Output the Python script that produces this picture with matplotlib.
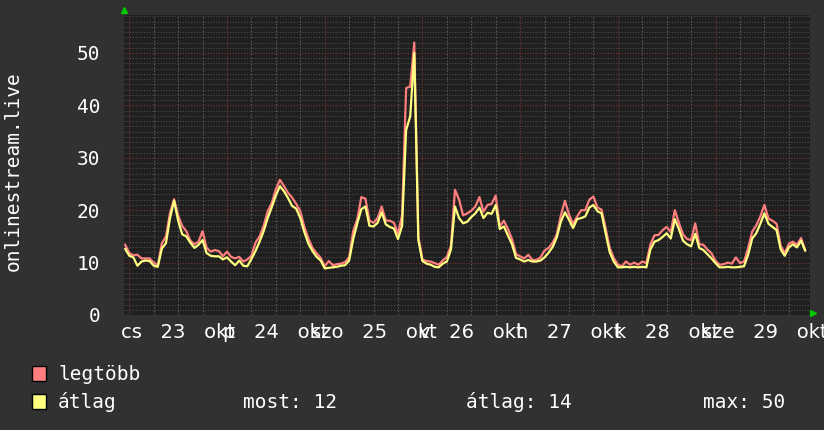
import numpy as np
import matplotlib.pyplot as plt
from matplotlib.ticker import MultipleLocator
from matplotlib.patches import Rectangle
from matplotlib.transforms import offset_copy, blended_transform_factory

# hours since 2025-10-23 00:00, one sample per hour
hours = np.arange(-1, 167)

avg = [12.6, 11.3, 11.0, 9.4, 10.2, 10.4, 10.3, 9.4, 9.2, 12.7, 13.7, 18.5, 21.8, 18.0, 15.4, 15.0,
       13.8, 12.8, 13.4, 14.3, 11.8, 11.3, 11.2, 11.2, 10.6, 11.0, 10.2, 9.5, 10.4, 9.4, 9.3, 10.7,
       12.2, 14.0, 16.0, 18.5, 20.6, 22.8, 24.6, 23.6, 22.3, 20.8, 20.3, 18.5, 15.8, 13.6, 12.2, 11.1,
       10.4, 8.9, 9.0, 9.1, 9.2, 9.4, 9.5, 10.4, 14.5, 17.5, 20.2, 20.7, 17.0, 16.9, 17.6, 19.6,
       17.3, 16.8, 16.5, 14.5, 17.0, 35.3, 37.9, 50.0, 14.3, 10.3, 9.8, 9.6, 9.2, 9.1, 9.8, 10.2,
       12.5, 20.7, 18.5, 17.5, 17.8, 18.7, 19.4, 20.5, 18.5, 19.5, 19.3, 21.0, 16.4, 16.9, 15.2, 13.5,
       10.9, 10.6, 10.2, 10.5, 10.2, 10.2, 10.4, 11.0, 11.9, 13.0, 14.8, 17.8, 19.6, 18.2, 16.6, 18.3,
       18.5, 18.8, 20.5, 21.0, 19.8, 19.4, 15.6, 12.0, 10.2, 9.1, 9.1, 9.2, 9.1, 9.2, 9.1, 9.2,
       9.1, 12.5, 14.0, 14.3, 14.9, 15.6, 14.6, 18.3, 16.4, 14.2, 13.5, 13.1, 15.5, 12.8, 12.4, 11.6,
       10.8, 9.9, 9.1, 9.1, 9.2, 9.1, 9.1, 9.2, 9.3, 11.5, 14.6, 15.6, 17.4, 19.4, 17.4, 16.8,
       16.2, 12.5, 11.3, 12.9, 13.5, 12.9, 14.2, 12.3]

peak = [13.4, 11.8, 11.4, 11.5, 10.8, 10.8, 10.8, 10.0, 9.5, 13.7, 15.0, 19.5, 22.1, 19.0, 17.0, 16.0,
        14.2, 13.5, 14.0, 16.0, 12.8, 12.1, 12.4, 12.2, 11.2, 12.1, 11.1, 10.8, 11.1, 10.2, 10.6, 11.3,
        13.8, 15.0, 17.0, 19.8, 21.4, 24.0, 25.8, 24.6, 23.3, 22.4, 21.2, 19.8, 16.8, 14.6, 12.8, 11.8,
        10.9, 9.3, 10.3, 9.5, 9.7, 9.8, 10.1, 11.0, 16.0, 18.3, 22.5, 22.2, 18.0, 17.6, 18.5, 20.7,
        18.0, 18.0, 17.6, 15.5, 19.0, 43.3, 43.6, 52.0, 15.0, 10.6, 10.3, 10.2, 9.9, 9.6, 10.4, 11.1,
        13.2, 23.9, 22.0, 19.0, 19.4, 19.9, 20.7, 22.5, 19.7, 21.0, 21.2, 22.8, 16.9, 18.0, 16.4, 14.5,
        11.6, 11.2, 10.8, 11.5, 10.5, 10.5, 11.0, 12.3, 12.8, 13.8, 15.4, 19.0, 21.8, 19.2, 17.4, 18.8,
        20.0, 20.0, 22.0, 22.6, 20.5, 20.1, 16.6, 12.8, 10.9, 9.6, 9.3, 10.2, 9.6, 10.0, 9.6, 10.2,
        9.9, 13.5, 15.2, 15.3, 16.2, 16.8, 15.8, 20.0, 17.6, 15.4, 14.5, 14.3, 17.5, 13.5, 13.4, 12.5,
        11.8, 10.3, 9.6, 9.7, 10.0, 9.8, 11.0, 9.9, 10.2, 12.8, 15.9, 17.1, 18.8, 21.0, 18.4, 18.0,
        17.4, 13.2, 11.8, 13.6, 14.0, 13.4, 14.7, 12.4]

day_labels = ['cs   23   okt', 'p   24   okt', 'szo   25   okt', 'v   26   okt',
              'h   27   okt', 'k   28   okt', 'sze   29   okt']
label_hours = [12, 36, 60, 84, 108, 132, 156]
y_label = 'onlinestream.live'
most, atlag, maxv = 12, 14, 50

bg = '#313131'
mono = 'DejaVu Sans Mono'

fig = plt.figure(figsize=(8.24, 4.30), dpi=100, facecolor=bg)
ax = fig.add_axes([124 / 824, 1 - 315 / 430, 686 / 824, 300 / 430])
ax.set_facecolor('#1f1f1f')
ax.set_xlim(-1.3, 167.2)
ax.set_ylim(0, 57.25)

# grid
ax.yaxis.set_major_locator(MultipleLocator(10))
ax.yaxis.set_minor_locator(MultipleLocator(1))
ax.grid(which='minor', axis='y', color='#4a4a4a', lw=0.8, ls=(0, (1, 1.5)))
ax.grid(which='major', axis='y', color='#7a3232', lw=0.8, ls=(0, (1, 1.5)))
for h in np.arange(0, 168, 6):
    if h % 24 == 0:
        ax.axvline(h, color='#7a3232', lw=0.8, ls=(0, (1, 1.5)), zorder=0.5)
    else:
        ax.axvline(h, color='#585858', lw=0.8, ls=(0, (1.5, 1.5)), zorder=0.5)
ax.set_axisbelow(True)

ax.plot(hours, peak, color='#ff7f7f', lw=1.6)
ax.plot(hours, avg, color='#ffff80', lw=1.6)

for s in ax.spines.values():
    s.set_visible(False)
ax.tick_params(axis='both', which='both', length=0)
ax.tick_params(axis='y', pad=17, labelsize=14, labelcolor='white')
for t in ax.get_yticklabels():
    t.set_family(mono)
ax.set_xticks([])

# day labels centred on noon, they run into each other like the original
trans = blended_transform_factory(ax.transData, ax.transAxes)
for h, lab in zip(label_hours, day_labels):
    ax.text(h, -0.025, lab, transform=trans, ha='center', va='top',
            fontsize=14, color='white', family='DejaVu Sans')

# green arrows
up = offset_copy(ax.transAxes, fig=fig, x=0, y=5, units='dots')
ax.plot([0], [1], marker='^', color='#00cc00', ms=4, transform=up, clip_on=False)
rt = offset_copy(ax.transAxes, fig=fig, x=3, y=2, units='dots')
ax.plot([1], [0], marker='>', color='#00cc00', ms=4, transform=rt, clip_on=False)

fig.text(13 / 824, 1 - 171 / 430, y_label, rotation=90, ha='center', va='center',
         family=mono, fontsize=14, color='white')

# legend
fig.add_artist(Rectangle((32 / 824, 1 - 381 / 430), 14 / 824, 15 / 430,
                         transform=fig.transFigure, fc='#ff7f7f', ec='black', lw=1))
fig.add_artist(Rectangle((32 / 824, 1 - 409 / 430), 14 / 824, 15 / 430,
                         transform=fig.transFigure, fc='#ffff80', ec='black', lw=1))
fig.text(58 / 824, 1 - 374 / 430, 'legtöbb', va='center', family=mono, fontsize=14, color='white')
fig.text(58 / 824, 1 - 402 / 430, 'átlag', va='center', family=mono, fontsize=14, color='white')
fig.text(243 / 824, 1 - 402 / 430, f'most: {most}', va='center', family=mono, fontsize=14, color='white')
fig.text(466 / 824, 1 - 402 / 430, f'átlag: {atlag}', va='center', family=mono, fontsize=14, color='white')
fig.text(703 / 824, 1 - 402 / 430, f'max: {maxv}', va='center', family=mono, fontsize=14, color='white')

fig.savefig('out.png', dpi=100, facecolor=bg)
